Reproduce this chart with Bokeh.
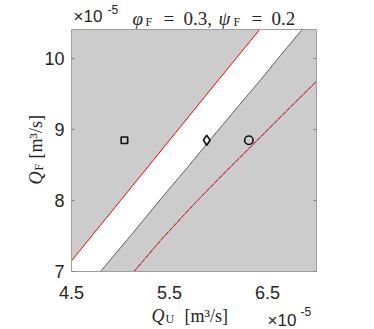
import math
from bokeh.plotting import figure
from bokeh.models import Range1d, FixedTicker, LinearAxis, Label, ColumnDataSource
from bokeh.embed import file_html
from bokeh.resources import INLINE

# ---- data (values in units of 1e-5 m^3/s) ----
x_lim = [4.5, 7.0]
y_lim = [7.0, 10.41]
x_ticks = [4.5, 5.5, 6.5]
y_ticks = [7, 8, 9, 10]

# red boundary (upper-left)
red_x = [4.5, 5.0, 5.5, 6.0, 6.42]
red_y = [7.15, 8.0, 8.85, 9.70, 10.41]

# gray contour boundary of the white band
bnd_x = [4.796, 5.07, 5.41, 5.68, 5.90, 6.16, 6.43, 6.63, 6.854]
bnd_y = [7.0, 7.45, 8.02, 8.46, 8.83, 9.26, 9.70, 10.04, 10.41]

# lower curve (gray with red dashes)
low_x = [5.138, 5.41, 5.75, 6.09, 6.36, 6.70, 7.0]
low_y = [7.0, 7.44, 7.95, 8.43, 8.80, 9.27, 9.68]

# markers
mk_x = [5.04, 5.88, 6.31]
mk_y = [8.85, 8.85, 8.85]
mk_shape = ["square", "diamond", "circle"]
mk_size = [6.5, 10, 8.5]

# ---- layout (canvas pixels) ----
CW, CH = 374, 329          # canvas size
BL, BT, BW, BH = 71, 29, 245, 242   # axes box inside canvas

sx = (x_lim[1] - x_lim[0]) / BW
sy = (y_lim[1] - y_lim[0]) / BH
XR = (x_lim[0] - BL * sx, x_lim[0] + (CW - BL) * sx)
YR = (y_lim[1] - (CH - BT) * sy, y_lim[1] + BT * sy)

p = figure(width=CW, height=CH, output_backend="svg", toolbar_location=None,
           x_range=Range1d(*XR), y_range=Range1d(*YR),
           x_axis_location=None, y_axis_location=None,
           min_border=0, min_border_left=0, min_border_right=0,
           min_border_top=0, min_border_bottom=0)
p.xgrid.visible = False
p.ygrid.visible = False
p.background_fill_color = "white"
p.border_fill_color = "white"
p.outline_line_color = None

TICK_FONT = "Liberation Sans"
xax = LinearAxis(fixed_location=y_lim[0], ticker=FixedTicker(ticks=x_ticks),
                 axis_line_color=None, major_tick_line_color=None,
                 minor_tick_line_color=None, major_label_text_font=TICK_FONT,
                 major_label_text_font_size="18px", major_label_text_color="#262626",
                 major_label_standoff=8)
p.add_layout(xax, "below")
yax = LinearAxis(fixed_location=x_lim[0], ticker=FixedTicker(ticks=y_ticks),
                 axis_line_color=None, major_tick_line_color="#808080",
                 major_tick_in=3, major_tick_out=0, minor_tick_line_color=None,
                 major_label_text_font=TICK_FONT, major_label_text_font_size="18px",
                 major_label_text_color="#262626", major_label_standoff=7)
p.add_layout(yax, "left")
yax2 = LinearAxis(fixed_location=x_lim[1], ticker=FixedTicker(ticks=y_ticks),
                  axis_line_color=None, major_tick_line_color="#808080",
                  major_tick_in=3, major_tick_out=0, minor_tick_line_color=None,
                  major_label_text_color=None, major_label_text_font_size="1px")
p.add_layout(yax2, "right")

# regions
gl_x = red_x + [x_lim[0]]
gl_y = red_y + [y_lim[1]]
gr_x = bnd_x + [x_lim[1], x_lim[1]]
gr_y = bnd_y + [y_lim[1], y_lim[0]]
p.patch(gl_x, gl_y, fill_color="#cccccc", line_color=None)
p.patch(gr_x, gr_y, fill_color="#cccccc", line_color=None)

p.line(low_x, low_y, line_color="#707070", line_width=1)
p.line(low_x, low_y, line_color="#ff0000", line_width=1, line_dash="4 2")
p.line(bnd_x, bnd_y, line_color="#606060", line_width=1)
p.line(red_x, red_y, line_color="#ff0000", line_width=1)

src = ColumnDataSource(dict(x=mk_x, y=mk_y, m=mk_shape, s=mk_size))
p.scatter("x", "y", marker="m", size="s", source=src, fill_color=None,
          line_color="#111111", line_width=1.6)

# axes box
p.quad(left=[x_lim[0]], right=[x_lim[1]], bottom=[y_lim[0]], top=[y_lim[1]],
       fill_color=None, line_color="#a0a0a0", line_width=1)

# ---- text (canvas px -> data coords) ----
def dx(cx):
    return XR[0] + cx * sx

def dy(cy):
    return YR[1] - cy * sy

def lab(text, cx, cy, size, font="Liberation Serif", style="normal", angle=0.0, color="#262626"):
    p.add_layout(Label(x=dx(cx), y=dy(cy), text=text, text_font=font,
                       text_font_size=f"{size}px", text_font_style=style,
                       text_color=color, text_align="left", text_baseline="alphabetic",
                       angle=angle))

# exponent at top-left
lab("\u00d710", 73, 16, 17, font=TICK_FONT)
lab("-5", 107, 9, 12, font=TICK_FONT)
# title
lab("\u03c6", 132, 18, 19, style="italic")
lab("F", 145, 21, 12)
lab("=", 163, 18, 19)
lab("0.3,", 183, 18, 19)
lab("\u03c8", 218, 18, 19, style="italic")
lab("F", 233, 21, 12)
lab("=", 251, 18, 19)
lab("0.2", 271, 18, 19)

# x label
lab("Q", 151, 315, 18, style="italic")
lab("U", 165, 318, 12)
lab("[m\u00b3/s]", 184, 315, 18)
# x exponent
lab("\u00d710", 267, 320, 17, font=TICK_FONT)
lab("-5", 300, 311, 12, font=TICK_FONT)

# y label (rotated)
ang = math.pi / 2
lab("Q", 35, 184, 18, style="italic", angle=ang)
lab("F", 38, 170, 12, angle=ang)
lab("[m\u00b3/s]", 35, 158, 18, angle=ang)

open("out.html", "w").write(file_html(p, INLINE))
